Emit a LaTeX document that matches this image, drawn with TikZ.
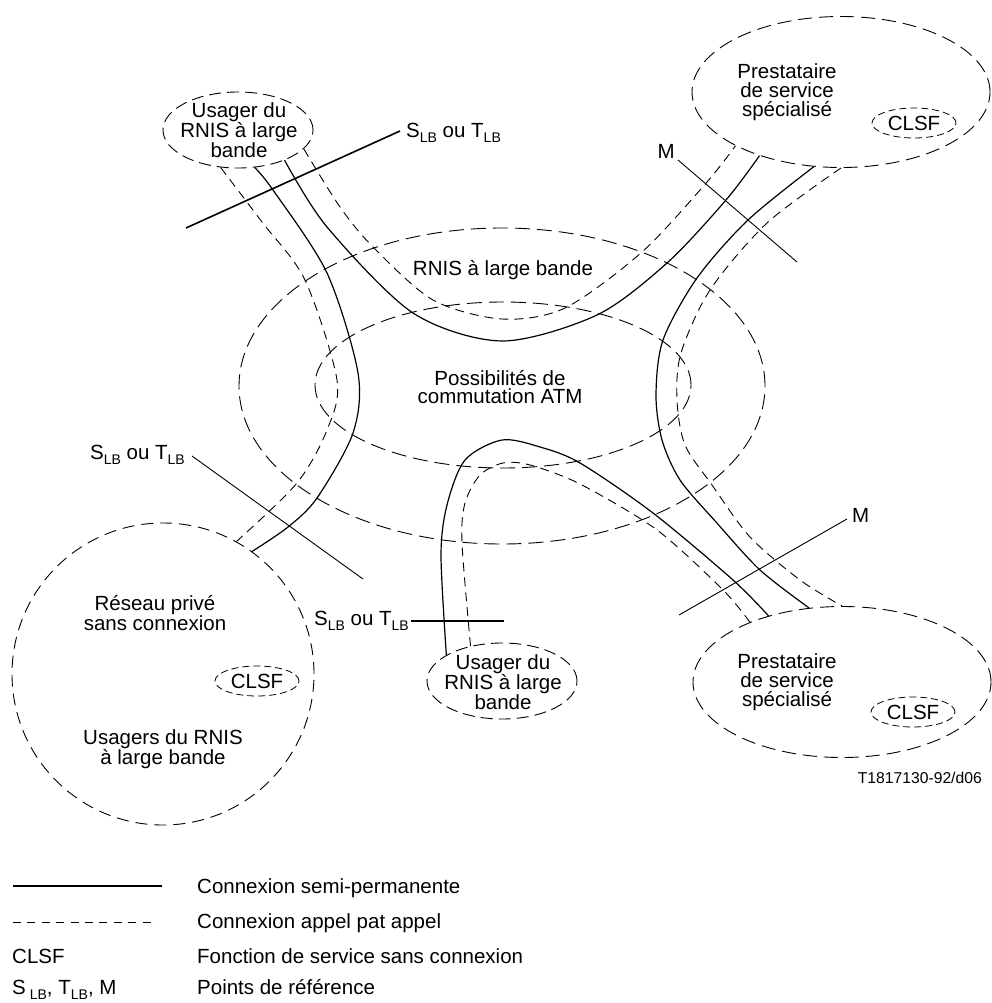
\documentclass[tikz,border=0pt]{standalone}
\usepackage{fontspec}
\setmainfont{Liberation Sans}
\usetikzlibrary{shapes.geometric}
\newcommand\lbsub{\raisebox{-5pt}{\fontsize{14}{14}\selectfont LB}}
\begin{document}
\begin{tikzpicture}[x=1pt,y=-1pt,
  every node/.style={inner sep=0pt, font=\fontsize{20.5}{18.8}\selectfont},
  zone/.style={draw, ellipse, line width=0.9pt, dash pattern=on 15pt off 7pt},
  user/.style={draw, ellipse, line width=0.9pt, dash pattern=on 12pt off 6pt, minimum width=150pt, minimum height=76pt},
  prest/.style={draw, ellipse, line width=0.9pt, dash pattern=on 14pt off 7pt, minimum width=298pt, minimum height=151pt},
  clsf/.style={draw, ellipse, line width=0.8pt, dash pattern=on 7pt off 4pt, minimum width=84pt, minimum height=30pt},
  txt/.style={align=center},
  semi/.style={line width=1.2pt},
  appel/.style={line width=0.9pt, dash pattern=on 9pt off 6pt},
  refthick/.style={line width=1.6pt},
  refthin/.style={line width=0.9pt}]
  \useasboundingbox (0,0) rectangle (992,1003);
  \node[zone, minimum width=526pt, minimum height=316pt] (rnis) at (502,386) {};
  \node[zone, minimum width=376pt, minimum height=166pt] (atm) at (503,385) {};
  \node[txt] (rnist) at (503,270) {RNIS à large bande};
  \node[txt] (atmt) at (500,387) {Possibilités de\\commutation ATM};
  \node[user] (ua) at (238,130) {};
  \node[txt] (uat) at (239,130) {Usager du\\RNIS à large\\bande};
  \node[user] (ub) at (502,681) {};
  \node[txt] (ubt) at (503,682) {Usager du\\RNIS à large\\bande};
  \node[prest] (pa) at (841,92) {};
  \node[txt] (pat) at (787,92) {Prestataire\\de service\\spécialisé};
  \node[clsf] (ca) at (914,123) {CLSF};
  \node[prest] (pb) at (842,682) {};
  \node[txt] (pbt) at (787,682) {Prestataire\\de service\\spécialisé};
  \node[clsf] (cb) at (913,712) {CLSF};
  \node[draw, circle, line width=0.9pt, dash pattern=on 12pt off 7pt, minimum size=302pt] (rp) at (163,674) {};
  \node[txt] (rpt) at (155,613) {Réseau privé\\sans connexion};
  \node[clsf] (cc) at (257,681) {CLSF};
  \node[txt] (rpu) at (163,749) {Usagers du RNIS\\à large bande};
  \draw[semi] plot[smooth] coordinates {(ua.-33) (327,227) (413,313) (502,341) (597,315) (667,263) (726,200) (pa.-142)};
  \draw[appel] plot[smooth] coordinates {(ua.-16) (340,207) (373,247) (433,300) (502,319) (565,308) (642,252) (707,182) (pa.-153)};
  \draw[semi] plot[smooth] coordinates {(ua.-66) (273,190) (327,273) (358,373) (353,433) (317,498) (288,527) (rp.54)};
  \draw[appel] plot[smooth] coordinates {(ua.-115) (262,222) (305,280) (337,380) (327,430) (297,483) (rp.61)};
  \draw[semi] plot[smooth] coordinates {(pa.-110) (748,220) (697,278) (663,340) (656,395) (662,440) (680,480) (716,522) (760,570) (pb.114)};
  \draw[appel] plot[smooth] coordinates {(pa.-90) (767,223) (710,290) (681,353) (677,400) (685,445) (712,485) (750,537) (800,580) (pb.90)};
  \draw[semi] plot[smooth] coordinates {(ub.155) (441,555) (447,505) (465,460) (502,440) (540,447) (580,463) (653,513) (733,580) (pb.138)};
  \draw[appel] plot[smooth] coordinates {(ub.132) (462,543) (465,503) (480,475) (503,463) (530,465) (580,484) (657,530) (723,590) (pb.147)};
  \coordinate (s1a) at (186,228); \coordinate (s1b) at (400,131);
  \draw[refthick] (s1a) -- (s1b);
  \node[anchor=base west] (s1) at (406,138) {S\lbsub{} ou T\lbsub};
  \coordinate (m1a) at (678,160); \coordinate (m1b) at (797,262);
  \draw[refthin] (m1a) -- (m1b);
  \node[anchor=base east] (m1) at (675,159) {M};
  \coordinate (s2a) at (192,456); \coordinate (s2b) at (363,579);
  \draw[refthin] (s2a) -- (s2b);
  \node[anchor=base east] (s2) at (185,459) {S\lbsub{} ou T\lbsub};
  \coordinate (s3a) at (411,621); \coordinate (s3b) at (504,621);
  \draw[refthick] (s3a) -- (s3b);
  \node[anchor=base east] (s3) at (409,625) {S\lbsub{} ou T\lbsub};
  \coordinate (m2a) at (679,615); \coordinate (m2b) at (847,519);
  \draw[refthin] (m2a) -- (m2b);
  \node[anchor=base west] (m2) at (852,522) {M};
  \node[anchor=base east, font=\fontsize{15.7}{16}\selectfont] (ref) at (982,783) {T1817130-92/d06};
  \coordinate (l1a) at (13,886); \coordinate (l1b) at (162,886);
  \draw[line width=1.7pt] (l1a) -- (l1b);
  \coordinate (l2a) at (13,922); \coordinate (l2b) at (157,922);
  \draw[line width=0.9pt, dash pattern=on 8pt off 6.4pt] (l2a) -- (l2b);
  \node[anchor=base west] (l1t) at (197,893) {Connexion semi-permanente};
  \node[anchor=base west] (l2t) at (197,928) {Connexion appel pat appel};
  \node[anchor=base west] (l3) at (12,963) {CLSF};
  \node[anchor=base west] (l3t) at (197,963) {Fonction de service sans connexion};
  \node[anchor=base west] (l4) at (12,994) {S\hspace{4pt}\lbsub, T\lbsub, M};
  \node[anchor=base west] (l4t) at (197,994) {Points de référence};
\end{tikzpicture}
\end{document}
